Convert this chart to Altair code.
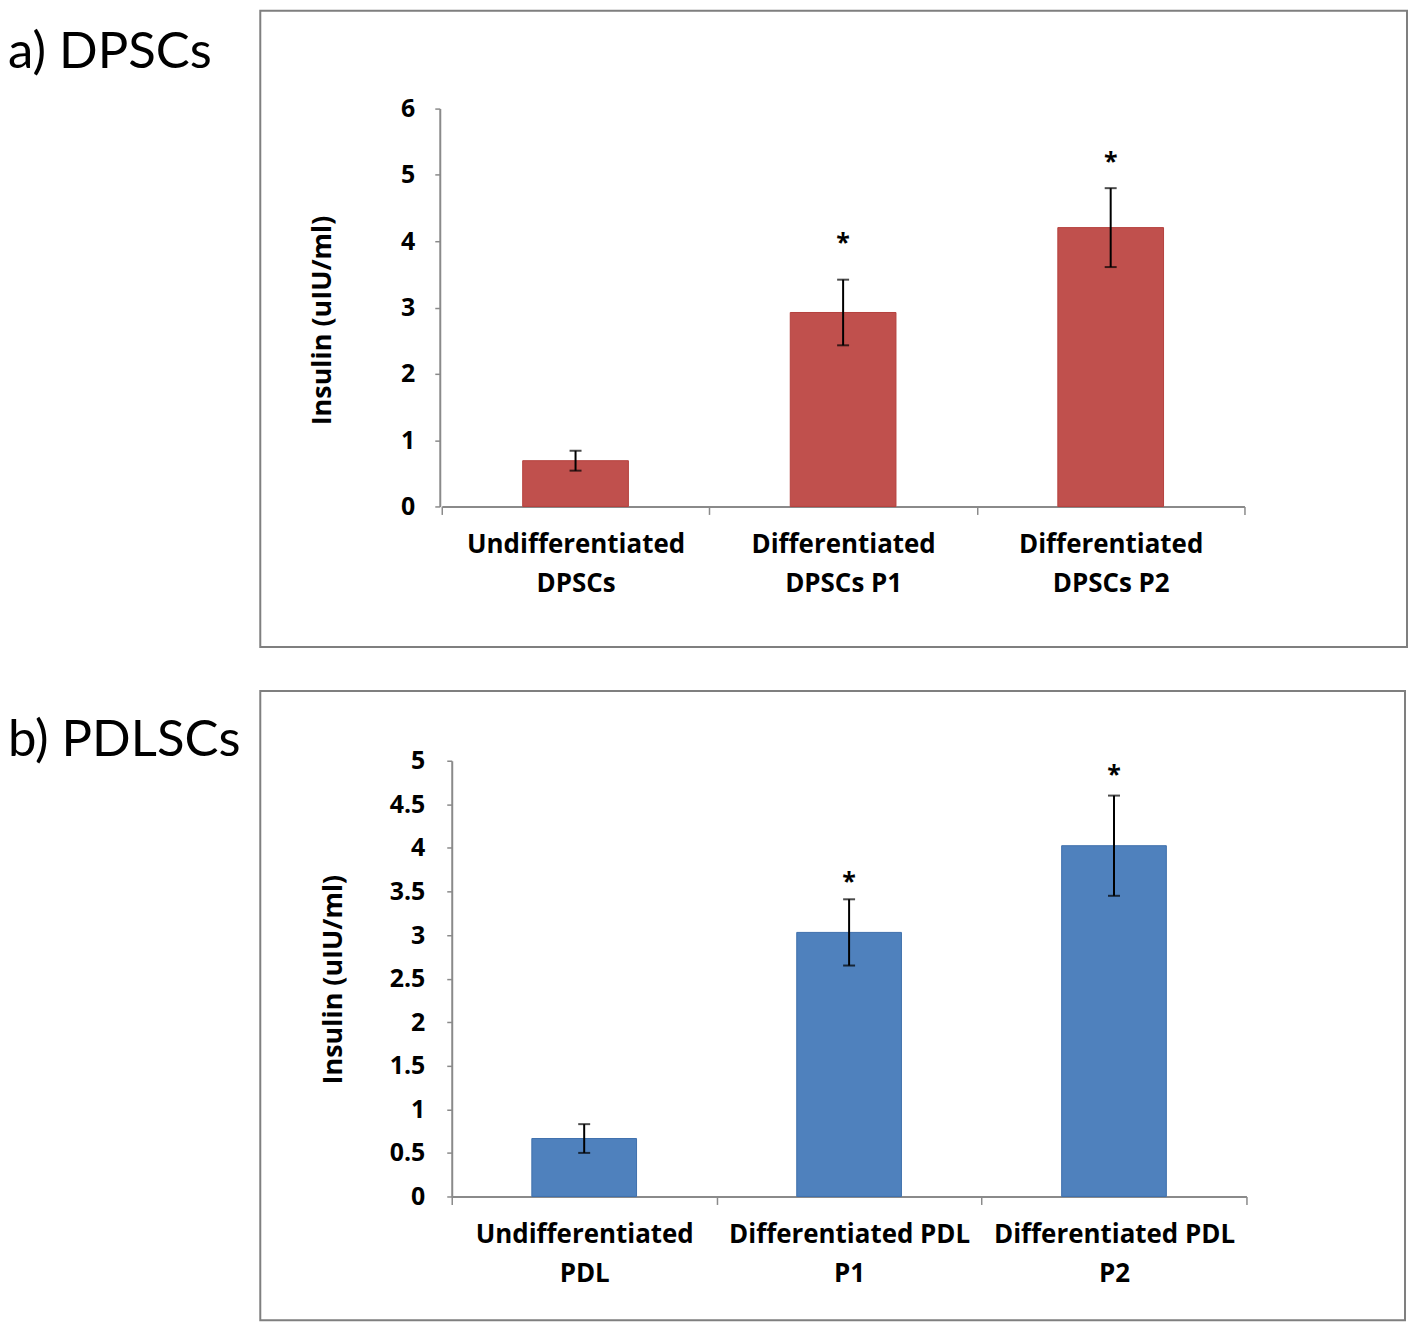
import altair as alt
import pandas as pd

# ---- data ----
cats_a = ["Undifferentiated\nDPSCs", "Differentiated\nDPSCs P1", "Differentiated\nDPSCs P2"]
vals_a = [0.69, 2.925, 4.205]
err_a = [0.15, 0.495, 0.595]
star_a = [None, 4.05, 5.27]
yticks_a = [0, 1, 2, 3, 4, 5, 6]

cats_b = ["Undifferentiated\nPDL", "Differentiated PDL\nP1", "Differentiated PDL\nP2"]
vals_b = [0.665, 3.03, 4.025]
err_b = [0.165, 0.38, 0.575]
star_b = [None, 3.66, 4.89]
yticks_b = [0, 0.5, 1, 1.5, 2, 2.5, 3, 3.5, 4, 4.5, 5]

YTITLE = "Insulin (uIU/ml)"
AXIS_GREY = "#8a8a8a"
FONT = "Open Sans"


def panel(cats, vals, errs, stars, yticks, ymax, color, stroke, width, height,
          x_range, y_offset, bar_size, title, title_x, title_y, frame,
          ytitle_x, ytitle_y, ylabel_pad):
    df = pd.DataFrame({
        "cat": cats,
        "val": vals,
        "lo": [v - e for v, e in zip(vals, errs)],
        "hi": [v + e for v, e in zip(vals, errs)],
        "star": stars,
    })
    xs = alt.Scale(paddingInner=0, paddingOuter=0, range=x_range)
    ys = alt.Scale(domain=[0, ymax], nice=False, zero=True)
    x_axis = alt.Axis(
        labelAngle=0, labelExpr="split(datum.label, '\\n')", tickBand="extent",
        labelLineHeight=39, labelPadding=17, tickSize=8, labelBaseline="top",
        labelLimit=500, labelFontSize=26, title=None,
    )
    y_axis = alt.Axis(
        values=yticks, format="~g", grid=False, tickSize=5, labelPadding=ylabel_pad,
        offset=y_offset,
        title=YTITLE, titleAngle=270, titleX=ytitle_x, titleY=ytitle_y,
        titleBaseline="alphabetic", titleAlign="center", titleFontSize=27,
    )
    base = alt.Chart(df)
    x = alt.X("cat:N", sort=cats, scale=xs, axis=x_axis, title=None)
    x2 = alt.X("cat:N", sort=cats, scale=xs, title=None)
    bars = base.mark_bar(size=bar_size, color=color, stroke=stroke, strokeWidth=1).encode(
        x=x, y=alt.Y("val:Q", scale=ys, axis=y_axis, title=YTITLE)
    )
    rule = base.mark_rule(color="black", strokeWidth=2).encode(
        x=x2, y=alt.Y("lo:Q", scale=ys, title=YTITLE), y2="hi:Q"
    )
    cap_lo = base.mark_tick(color="black", size=12, thickness=2).encode(
        x=x2, y=alt.Y("lo:Q", scale=ys, title=YTITLE)
    )
    cap_hi = base.mark_tick(color="black", size=12, thickness=2).encode(
        x=x2, y=alt.Y("hi:Q", scale=ys, title=YTITLE)
    )
    star = base.mark_text(text="*", font=FONT, fontWeight="bold", fontSize=25,
                          baseline="middle", dy=5, color="black").encode(
        x=x2, y=alt.Y("star:Q", scale=ys, title=YTITLE)
    )
    one = alt.Chart(pd.DataFrame({"k": [0]}))
    box = one.mark_rect(fill=None, stroke="#7f7f7f", strokeWidth=2).encode(
        x=alt.value(frame[0]), x2=alt.value(frame[1]),
        y=alt.value(frame[2]), y2=alt.value(frame[3]),
    )
    ttl = one.mark_text(text=title, font="Lato", fontSize=51, align="left",
                        baseline="alphabetic", color="black").encode(
        x=alt.value(title_x), y=alt.value(title_y)
    )
    return alt.layer(box, bars, rule, cap_lo, cap_hi, star, ttl).properties(
        width=width, height=height
    )


pa = panel(cats_a, vals_a, err_a, star_a, yticks_a, 6, "#c0504d", "#b5403d",
           807, 399, [2, 807], 0, 106, "a) DPSCs", -433, -41,
           (-180, 970, -98, 540), -110, 212, 20)
pb = panel(cats_b, vals_b, err_b, star_b, yticks_b, 5, "#4f81bd", "#3f70ad",
           809, 437, [12, 809], -12, 105, "b) PDLSCs", -433, -5,
           (-180, 968, -70, 561), -111, 219, 22)

chart = alt.vconcat(pa, pb, spacing=42).properties(
    padding=0, background="white"
).configure_view(stroke=None).configure_axis(
    domainColor=AXIS_GREY, domainWidth=2, tickColor=AXIS_GREY, tickWidth=1.5,
    labelFont=FONT, labelFontWeight="bold", labelFontSize=25, labelColor="black",
    titleFont=FONT, titleFontWeight="bold", titleFontSize=25, titleColor="black",
)

chart.save("out.html", embed_options={"renderer": "svg", "actions": False})
